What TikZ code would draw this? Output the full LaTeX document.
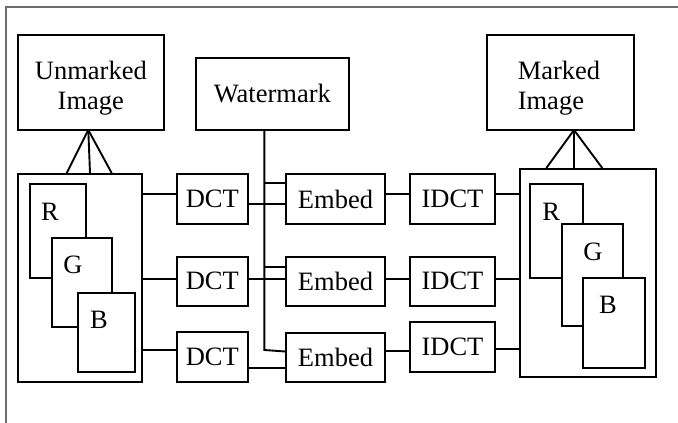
\documentclass[tikz,border=0pt]{standalone}
\usepackage{fontspec}
\setmainfont{Liberation Serif}
\begin{document}
\begin{tikzpicture}[x=1pt,y=-1pt,
  box/.style={draw, line width=1.9pt, fill=white, inner sep=0pt, font=\fontsize{26.5}{30}\selectfont},
  lbl/.style={inner sep=0pt, font=\fontsize{26.5}{30}\selectfont},
  wire/.style={line width=1.9pt}]
\useasboundingbox (0,0) rectangle (678,423);
\draw[gray!85!black, line width=1.2pt] (6,423) -- (6,7) -- (678,7);
% top boxes
\node[box, minimum width=146.3pt, minimum height=95pt] (un) at (90.85,82.5) {};
\node[lbl, align=center] (unt) at (90.85,88) {Unmarked\\Image};
\node[box, minimum width=152.7pt, minimum height=72pt] (wm) at (272.35,94) {Watermark};
\node[box, minimum width=146.7pt, minimum height=95pt] (mk) at (560.65,82.5) {};
\node[lbl, align=left] (mkt) at (559,88) {Marked\\Image};
% big image boxes
\node[box, minimum width=124.3pt, minimum height=208pt] (lb) at (79.85,278) {};
\node[box, minimum width=136pt, minimum height=207.7pt] (rb) at (588.3,272.85) {};
% left RGB
\node[box, minimum width=56pt, minimum height=94pt] (lr) at (58,231) {};
\node[box, minimum width=60.3pt, minimum height=89pt] (lg) at (81.85,282.5) {};
\node[box, minimum width=57.3pt, minimum height=79pt] (lbb) at (106.35,332.5) {};
\node[lbl] (lrt) at (50,212) {R};
\node[lbl] (lgt) at (73,265) {G};
\node[lbl] (lbt) at (99,320) {B};
% right RGB
\node[box, minimum width=53pt, minimum height=94.3pt] (rr) at (556.8,231.15) {};
\node[box, minimum width=60.4pt, minimum height=102.3pt] (rg) at (592.5,275.15) {};
\node[box, minimum width=61.7pt, minimum height=90pt] (rbb) at (613.85,323.3) {};
\node[lbl] (rrt) at (551.3,211.7) {R};
\node[lbl] (rgt) at (593,251.7) {G};
\node[lbl] (rbt) at (608,305) {B};
% DCT
\node[box, minimum width=71.3pt, minimum height=50pt] (d1) at (212.35,199) {DCT};
\node[box, minimum width=71.3pt, minimum height=49.3pt] (d2) at (212.35,281.35) {DCT};
\node[box, minimum width=71.3pt, minimum height=50pt] (d3) at (212.35,357) {DCT};
% Embed
\node[box, minimum width=99pt, minimum height=50pt] (e1) at (335.5,199) {Embed};
\node[box, minimum width=99pt, minimum height=49.3pt] (e2) at (335.5,281.35) {Embed};
\node[box, minimum width=99pt, minimum height=49pt] (e3) at (335.5,357.5) {Embed};
% IDCT
\node[box, minimum width=84.4pt, minimum height=50pt] (i1) at (452.5,199) {IDCT};
\node[box, minimum width=84.4pt, minimum height=49.3pt] (i2) at (452.5,281.35) {IDCT};
\node[box, minimum width=84.4pt, minimum height=50pt] (i3) at (452.5,347) {IDCT};
% triangles
\coordinate (ua) at (88.3,130);
\draw[wire] (ua) -- (lb.north -| 66.7,0);
\draw[wire] (ua) -- (lb.north -| 90,0);
\draw[wire] (ua) -- (lb.north -| 111.7,0);
\coordinate (ma) at (574,130);
\draw[wire] (ma) -- (rb.north -| 546.3,0);
\draw[wire] (ma) -- (rb.north -| 574,0);
\draw[wire] (ma) -- (rb.north -| 602.3,0);
% left box to DCT
\draw[wire] (lb.east |- 0,194) -- (d1.west |- 0,194);
\draw[wire] (lb.east |- 0,278.7) -- (d2.west |- 0,278.7);
\draw[wire] (lb.east |- 0,350) -- (d3.west |- 0,350);
% DCT to Embed
\draw[wire] (d1.east |- 0,204) -- (e1.west |- 0,204);
\draw[wire] (d2.east |- 0,278.7) -- (e2.west |- 0,278.7);
\draw[wire] (d3.east |- 0,368) -- (e3.west |- 0,368);
% watermark distribution
\draw[wire] (wm.south -| 264.3,0) -- (264.3,350) -- (e3.west |- 0,351.5);
\draw[wire] (264.3,183) -- (e1.west |- 0,183);
\draw[wire] (264.3,266.7) -- (e2.west |- 0,266.7);
% Embed to IDCT
\draw[wire] (e1.east |- 0,194) -- (i1.west |- 0,194);
\draw[wire] (e2.east |- 0,278.7) -- (i2.west |- 0,278.7);
\draw[wire] (e3.east |- 0,351) -- (i3.west |- 0,351);
% IDCT to right box
\draw[wire] (i1.east |- 0,194) -- (rb.west |- 0,194);
\draw[wire] (i2.east |- 0,278.7) -- (rb.west |- 0,278.7);
\draw[wire] (i3.east |- 0,349) -- (rb.west |- 0,349);
\end{tikzpicture}
\end{document}
